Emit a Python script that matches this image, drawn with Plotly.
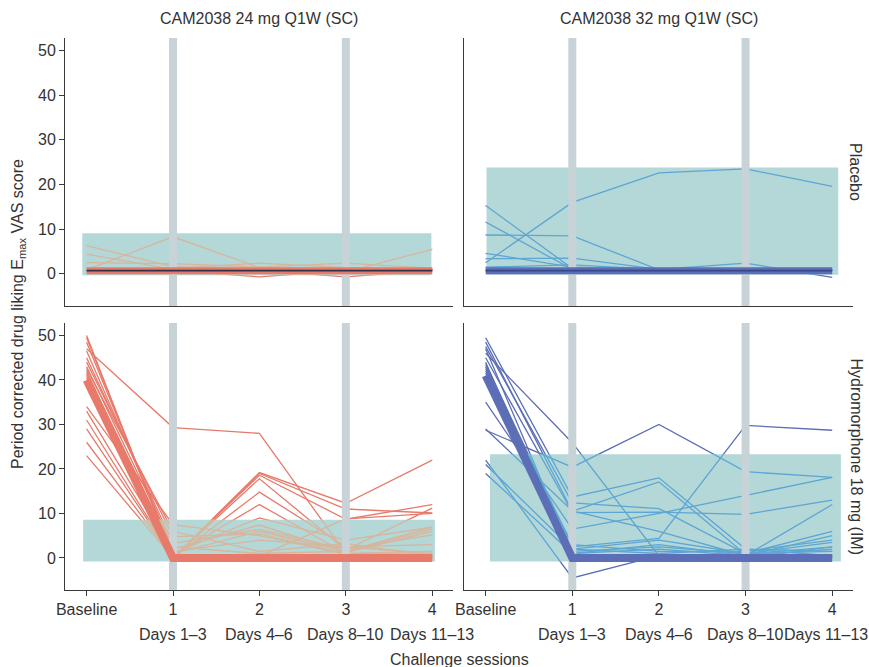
import plotly.graph_objects as go

# ---------------- data ----------------
sessions = [0, 1, 2, 3, 4]
session_ticks = ["Baseline", "1", "2", "3", "4"]
session_days = ["", "Days 1–3", "Days 4–6", "Days 8–10", "Days 11–13"]
challenge_marks = [1, 3]
y_ticks = [0, 10, 20, 30, 40, 50]
col_titles = ["CAM2038 24 mg Q1W (SC)", "CAM2038 32 mg Q1W (SC)"]
row_titles = ["Placebo", "Hydromorphone 18 mg (IM)"]
y_title = "Period corrected drug liking E<sub>max</sub> VAS score"
x_title = "Challenge sessions"

# individual participants: values at [Baseline, 1, 2, 3, 4]
cam24_placebo = [
    [6.3, 1.6, 0.9, 0.8, 0.8],
    [4.4, 1.0, 0.8, 0.8, 0.8],
    [2.5, 2.3, 1.5, 2.4, 1.2],
    [0.9, 8.3, 1.4, 1.0, 0.8],
    [0.8, 1.2, 2.4, 1.4, 0.8],
    [0.8, 0.8, 0.8, 0.4, 5.5],
    [0.8, 0.8, -0.7, 0.8, 0.8],
    [0.8, 0.8, 0.8, -0.7, 0.8],
]
cam24_placebo_typical = [0.7, 0.7, 0.7, 0.7, 0.7]
cam24_placebo_range = [-0.05, 3.99, -0.3, 9.1]

cam32_placebo = [
    [2.5, 16.0, 22.6, 23.5, 19.6],
    [15.3, 1.2, 0.9, 0.8, 0.8],
    [11.6, 1.0, 0.8, 0.8, 0.8],
    [8.7, 8.5, 0.9, 0.8, 0.8],
    [4.6, 1.5, 0.9, 0.8, 0.8],
    [3.4, 3.5, 1.0, 0.8, 0.8],
    [1.5, 2.0, 1.0, 0.8, 0.8],
    [0.8, 0.9, 1.0, 2.4, -0.8],
]
cam32_placebo_typical = [0.7, 0.7, 0.7, 0.7, 0.7]
cam32_placebo_range = [0.01, 4.07, -0.2, 23.8]

cam24_hydromorphone = [
    [47.0, 29.3, 28.0, 1.0, 0.5],
    [41.5, 0.0, 19.2, 12.3, 22.0],
    [40.5, 0.0, 19.0, 11.0, 10.1],
    [39.5, 0.0, 18.6, 8.7, 12.0],
    [38.8, 0.0, 17.8, 1.8, 11.2],
    [50.0, 0.0, 14.8, 2.5, 1.0],
    [49.5, 0.5, 12.0, 1.0, 0.8],
    [48.5, 1.0, 9.0, 4.0, 6.9],
    [46.5, 2.0, 7.4, 1.2, 6.0],
    [45.0, 3.3, 6.4, 2.0, 5.2],
    [44.0, 4.8, 5.4, 1.0, 1.5],
    [42.5, 6.0, 1.5, 3.2, 0.5],
    [34.0, 7.5, 5.0, 0.8, 0.5],
    [33.0, 1.0, 6.0, 1.5, 7.0],
    [31.0, 0.0, 0.5, 0.5, 0.5],
    [29.0, 0.0, 0.5, 8.8, 10.0],
    [26.0, 0.0, 0.3, 0.3, 0.3],
    [23.0, 0.0, 0.3, 0.3, 0.3],
    [41.0, 0.0, 0.0, 0.0, 0.0],
    [38.5, 0.0, 0.0, 0.0, 0.0],
    [42.0, 0.0, 0.0, 0.0, 0.0],
    [39.0, 0.0, 0.0, 0.0, 0.0],
    [40.0, 1.5, 4.0, 2.5, 3.0],
    [43.0, 2.5, 1.0, 1.5, 6.5],
]
cam24_hydromorphone_typical = [40.0, 0.0, 0.0, 0.0, 0.0]
cam24_hydromorphone_range = [-0.04, 4.03, -0.8, 8.6]

cam32_hydromorphone = [
    [28.7, 20.4, 30.0, 19.4, 18.1],
    [46.0, 25.9, 0.5, 0.5, 0.5],
    [22.0, -4.5, 0.5, 0.5, 0.5],
    [49.5, 13.7, 18.0, 2.0, 0.5],
    [48.5, 10.5, 17.1, 0.8, 2.5],
    [47.5, 12.4, 11.1, 1.0, 1.5],
    [45.0, 10.2, 10.3, 9.8, 13.0],
    [43.5, 2.5, 4.4, 29.8, 28.7],
    [35.0, 6.5, 10.0, 14.0, 18.1],
    [29.0, 10.6, 6.0, 0.5, 12.0],
    [21.0, 2.0, 4.0, 1.0, 6.0],
    [19.0, 1.0, 2.0, 0.5, 5.0],
    [42.0, 3.0, 1.5, 1.5, 4.0],
    [44.0, 0.0, 0.5, 0.0, 2.5],
    [40.5, 0.0, 0.3, 0.3, 0.3],
    [41.5, 0.0, 0.3, -0.8, 0.3],
    [42.5, 0.0, 0.0, 0.0, 0.0],
    [43.0, 1.5, 2.5, 1.0, 3.5],
    [40.0, 2.0, 1.0, 2.0, 1.5],
    [47.0, 1.0, 3.0, 0.5, 2.0],
]
cam32_hydromorphone_typical = [41.0, 0.0, 0.0, 0.0, 0.0]
cam32_hydromorphone_range = [0.05, 4.10, -0.8, 23.3]

# ---------------- styling / layout ----------------
W, H = 869, 667
col_px = [(65, 453), (464, 853)]
row_px = [(38, 306), (323, 590)]
x_range = [-0.25, 4.24]
y_range = [-7.2, 52.8]

RED, TAN = "#E77A6B", "#D6B69C"
DBLUE, LBLUE = "#5B6EB6", "#5DA6D3"
TEAL, GRAY = "#B4D7D8", "#C8D3D7"
AXC, TXT = "#3A3A3A", "#333333"
FONT = "Liberation Sans, Arial, sans-serif"

panels = [
    dict(row=0, col=0, lines=cam24_placebo, typ=cam24_placebo_typical, box=cam24_placebo_range,
         out=RED, inn=TAN, thick=RED, center="#2F3347", tw=7),
    dict(row=0, col=1, lines=cam32_placebo, typ=cam32_placebo_typical, box=cam32_placebo_range,
         out=DBLUE, inn=LBLUE, thick=DBLUE, center="#3A4788", tw=7),
    dict(row=1, col=0, lines=cam24_hydromorphone, typ=cam24_hydromorphone_typical, box=cam24_hydromorphone_range,
         out=RED, inn=TAN, thick=RED, center=None, tw=8),
    dict(row=1, col=1, lines=cam32_hydromorphone, typ=cam32_hydromorphone_typical, box=cam32_hydromorphone_range,
         out=DBLUE, inn=LBLUE, thick=DBLUE, center=None, tw=8),
]


def xdom(col):
    a, b = col_px[col]
    return [a / W, b / W]


def ydom(row):
    a, b = row_px[row]
    return [1 - b / H, 1 - a / H]


def sub_dom(dom, rng, lo, hi):
    f = lambda v: dom[0] + (v - rng[0]) / (rng[1] - rng[0]) * (dom[1] - dom[0])
    return [f(lo), f(hi)]


fig = go.Figure()
layout = {}
n = len(panels)

for i, p in enumerate(panels):
    m, s, t = i + 1, i + 1 + n, i + 1 + 2 * n
    xd, yd = xdom(p["col"]), ydom(p["row"])
    bx0, bx1, by0, by1 = p["box"]
    bottom = p["row"] == 1
    left = p["col"] == 0

    # main axes
    layout[f"xaxis{m}"] = dict(domain=xd, range=x_range, anchor=f"y{m}", showgrid=False, zeroline=False,
                               automargin=False, showline=True, linecolor=AXC, linewidth=1,
                               ticks="outside" if bottom else "", ticklen=5, tickcolor=AXC,
                               tickvals=sessions, ticktext=session_ticks, showticklabels=bottom,
                               tickfont=dict(size=16, color=TXT, family=FONT))
    layout[f"yaxis{m}"] = dict(domain=yd, range=y_range, anchor=f"x{m}", showgrid=False, zeroline=False,
                               automargin=False, showline=True, linecolor=AXC, linewidth=1,
                               ticks="outside" if left else "", ticklen=5, tickcolor=AXC,
                               tickvals=y_ticks, showticklabels=left,
                               tickfont=dict(size=16, color=TXT, family=FONT))
    # inset axes covering exactly the shaded range (clips the inside-colour copies)
    layout[f"xaxis{s}"] = dict(domain=sub_dom(xd, x_range, bx0, bx1), range=[bx0, bx1],
                               anchor=f"y{s}", visible=False, automargin=False)
    layout[f"yaxis{s}"] = dict(domain=sub_dom(yd, y_range, by0, by1), range=[by0, by1],
                               anchor=f"x{s}", visible=False, automargin=False)
    # top layer axes (same mapping as main)
    layout[f"xaxis{t}"] = dict(domain=xd, range=x_range, anchor=f"y{t}", visible=False, automargin=False)
    layout[f"yaxis{t}"] = dict(domain=yd, range=y_range, anchor=f"x{t}", visible=False, automargin=False)

    xm, ym = ("x" if m == 1 else f"x{m}"), ("y" if m == 1 else f"y{m}")
    # thin participant lines
    for vals in p["lines"]:
        fig.add_trace(go.Scatter(x=sessions, y=vals, mode="lines", xaxis=xm, yaxis=ym,
                                 line=dict(color=p["out"], width=1.3), showlegend=False, hoverinfo="skip"))
    # shaded range
    fig.add_trace(go.Scatter(x=[bx0, bx1, bx1, bx0, bx0], y=[by0, by0, by1, by1, by0], mode="lines",
                             fill="toself", fillcolor=TEAL, line=dict(width=0), xaxis=xm, yaxis=ym,
                             showlegend=False, hoverinfo="skip"))
    # inside-colour copies
    for vals in p["lines"]:
        fig.add_trace(go.Scatter(x=sessions, y=vals, mode="lines", xaxis=f"x{s}", yaxis=f"y{s}",
                                 line=dict(color=p["inn"], width=1.3), showlegend=False, hoverinfo="skip"))
    # challenge bars
    for cm in challenge_marks:
        fig.add_trace(go.Scatter(x=[cm, cm], y=y_range, mode="lines", xaxis=f"x{t}", yaxis=f"y{t}",
                                 line=dict(color=GRAY, width=8), showlegend=False, hoverinfo="skip"))
    # typical (bundled) profile
    fig.add_trace(go.Scatter(x=sessions, y=p["typ"], mode="lines", xaxis=f"x{t}", yaxis=f"y{t}",
                             line=dict(color=p["thick"], width=p["tw"]), showlegend=False, hoverinfo="skip"))
    if p["center"]:
        fig.add_trace(go.Scatter(x=sessions, y=p["typ"], mode="lines", xaxis=f"x{t}", yaxis=f"y{t}",
                                 line=dict(color=p["center"], width=1.8), showlegend=False, hoverinfo="skip"))

F = dict(size=16, color=TXT, family=FONT)
C = dict(showarrow=False, xanchor="center", yanchor="middle", font=F)
annotations = []
for c, title in enumerate(col_titles):
    d = xdom(c)
    annotations.append(dict(text=title, x=(d[0] + d[1]) / 2, y=1 - 18 / H, xref="paper", yref="paper", **C))
for r, title in enumerate(row_titles):
    d = ydom(r)
    annotations.append(dict(text=title, x=856 / W, y=(d[0] + d[1]) / 2, xref="paper", yref="paper",
                            textangle=90, **C))
for c, ax in enumerate(["x3", "x4"]):
    for k, (sx, lab) in enumerate(zip(sessions, session_days)):
        if lab:
            shift = -6 if (c == 1 and k == len(sessions) - 1) else 0
            annotations.append(dict(text=lab, x=sx, y=1 - 634 / H, xref=ax, yref="paper",
                                    xshift=shift, **C))
annotations.append(dict(text=x_title, x=(col_px[0][0] + col_px[1][1]) / 2 / W, y=1 - 659 / H,
                        xref="paper", yref="paper", **C))
annotations.append(dict(text=y_title, x=18 / W, y=1 - (row_px[0][0] + row_px[1][1]) / 2 / H,
                        xref="paper", yref="paper", textangle=-90, **C))

fig.update_layout(width=W, height=H, margin=dict(l=0, r=0, t=0, b=0, autoexpand=False),
                  paper_bgcolor="white", plot_bgcolor="rgba(0,0,0,0)",
                  font=dict(family=FONT, color=TXT), annotations=annotations, **layout)

fig.write_html("out.html", config={"displayModeBar": False},
               post_script="document.body.style.margin='0';")
